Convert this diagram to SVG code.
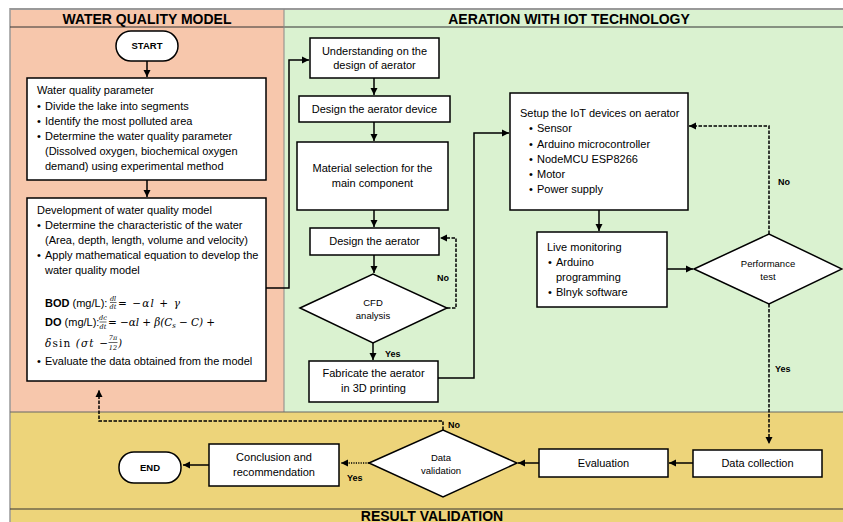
<svg xmlns="http://www.w3.org/2000/svg" width="843" height="522" viewBox="0 0 843 522">
<style>
.t{font-family:"Liberation Sans",Arial,sans-serif;font-size:11px;fill:#000}
.c{text-anchor:middle}
.b{font-weight:bold}
.h{font-family:"Liberation Sans",Arial,sans-serif;font-size:14px;font-weight:bold;text-anchor:middle;fill:#000}
.s{font-size:9.5px}
.lb{font-family:"Liberation Sans",Arial,sans-serif;font-size:9px;font-weight:bold;fill:#000}
.box{fill:#fff;stroke:#000;stroke-width:1.5}
.ln{fill:none;stroke:#000;stroke-width:1.5}
.dash{stroke-dasharray:3.5 1.5}
.dot{stroke-dasharray:1.2 1.2}
.m{font-family:"DejaVu Serif","Liberation Serif",serif;font-style:italic;font-size:10.5px;fill:#000}
.fr{font-family:"DejaVu Serif","Liberation Serif",serif;font-style:italic;font-size:6.5px;text-anchor:middle;fill:#000}
.fl{stroke:#000;stroke-width:0.6}
</style>
<defs>
<marker id="ah" markerWidth="8" markerHeight="8" refX="7" refY="4" orient="auto" markerUnits="userSpaceOnUse">
<path d="M0,0.5 L7,4 L0,7.5 z" fill="#000"/>
</marker>
</defs>

<g id="lanes">
<rect x="10" y="9" width="274" height="403" fill="#F7C7AC"/>
<rect x="284" y="9" width="559" height="403" fill="#DAF2D0"/>
<rect x="10" y="412" width="833" height="110" fill="#EDD47A"/>
<line x1="10" y1="9" x2="843" y2="9" stroke="#999" stroke-width="2"/>
<line x1="10" y1="8" x2="10" y2="522" stroke="#999" stroke-width="1.5"/>
<line x1="10" y1="27" x2="843" y2="27" stroke="#333" stroke-width="1"/>
<line x1="284" y1="9" x2="284" y2="412" stroke="#888" stroke-width="1"/>
<line x1="10" y1="412" x2="843" y2="412" stroke="#666" stroke-width="1"/>
<line x1="10" y1="509" x2="843" y2="509" stroke="#333" stroke-width="1"/>
<text class="h" x="147" y="23.5">WATER QUALITY MODEL</text>
<text class="h" x="569" y="23.5">AERATION WITH IOT TECHNOLOGY</text>
<text class="h" x="432" y="520.5" font-size="13.5">RESULT VALIDATION</text>
</g>

<g id="connectors">
<path class="ln" d="M147,61 V77" marker-end="url(#ah)"/>
<path class="ln" d="M147,180 V197" marker-end="url(#ah)"/>
<path class="ln" d="M266,288 H289 V60 H309" marker-end="url(#ah)"/>
<path class="ln" d="M374,78 V95" marker-end="url(#ah)"/>
<path class="ln" d="M374,122 V141" marker-end="url(#ah)"/>
<path class="ln" d="M374,210 V227" marker-end="url(#ah)"/>
<path class="ln" d="M374,255 V273" marker-end="url(#ah)"/>
<path class="ln dash" d="M447,308 H456 V238 H440" marker-end="url(#ah)"/>
<path class="ln" d="M373,343 V360" marker-end="url(#ah)"/>
<path class="ln" d="M438,378 H474 V133 H509" marker-end="url(#ah)"/>
<path class="ln" d="M599,210 V231" marker-end="url(#ah)"/>
<path class="ln" d="M667,269 H693" marker-end="url(#ah)"/>
<path class="ln dash" d="M769,234 V126 H689" marker-end="url(#ah)"/>
<path class="ln dash" d="M769,304 V444" marker-end="url(#ah)"/>
<path class="ln" d="M693,463 H669" marker-end="url(#ah)"/>
<path class="ln" d="M539,463 H518" marker-end="url(#ah)"/>
<path class="ln dash" d="M443,430 V421 H99 V390" marker-end="url(#ah)"/>
<path class="ln dot" d="M369,463 H341" marker-end="url(#ah)"/>
<path class="ln" d="M209,465 H183" marker-end="url(#ah)"/>
<text class="lb" x="437" y="280.5">No</text>
<text class="lb" x="385" y="356.5">Yes</text>
<text class="lb" x="778" y="184.5">No</text>
<text class="lb" x="775" y="372">Yes</text>
<text class="lb" x="448" y="427.5">No</text>
<text class="lb" x="347" y="481">Yes</text>
</g>

<g id="start">
<rect class="box" x="116" y="31" width="62" height="30" rx="15"/>
<text class="t c b s" x="147" y="49">START</text>
</g>

<g id="wq-parameter">
<rect class="box" x="27" y="78" width="239" height="102"/>
<text class="t" x="37" y="94">Water quality parameter</text>
<text class="t" x="37" y="109.5">•</text><text class="t" x="45" y="109.5">Divide the lake into segments</text>
<text class="t" x="37" y="125">•</text><text class="t" x="45" y="125">Identify the most polluted area</text>
<text class="t" x="37" y="140">•</text><text class="t" x="45" y="140">Determine the water quality parameter</text>
<text class="t" x="45" y="155">(Dissolved oxygen, biochemical oxygen</text>
<text class="t" x="45" y="170">demand) using experimental method</text>
</g>

<g id="wq-model">
<rect class="box" x="27" y="198" width="239" height="183"/>
<text class="t" x="37" y="214">Development of water quality model</text>
<text class="t" x="37" y="229">•</text><text class="t" x="45" y="229">Determine the characteristic of the water</text>
<text class="t" x="45" y="244">(Area, depth, length, volume and velocity)</text>
<text class="t" x="37" y="259">•</text><text class="t" x="45" y="259">Apply mathematical equation to develop the</text>
<text class="t" x="45" y="274">water quality model</text>
<text class="t" x="45" y="306.5"><tspan class="b">BOD</tspan> (mg/L):</text>
<text class="fr" x="113" y="300.5">dl</text>
<line class="fl" x1="110" y1="302.5" x2="116.5" y2="302.5"/>
<text class="fr" x="113" y="309">dt</text>
<text class="m" x="118" y="306.5" textLength="62" lengthAdjust="spacing">= −αl + γ</text>
<text class="t" x="45" y="326"><tspan class="b">DO</tspan> (mg/L):</text>
<text class="fr" x="103" y="320">dc</text>
<line class="fl" x1="99.5" y1="322" x2="106.5" y2="322"/>
<text class="fr" x="103" y="328.5">dt</text>
<text class="m" x="108" y="326" textLength="107" lengthAdjust="spacing">= −αl + β(C<tspan font-size="7" dy="2">s</tspan><tspan dy="-2"> − C) +</tspan></text>
<text class="m" x="45" y="347" textLength="63" lengthAdjust="spacing">δ<tspan font-style="normal">sin</tspan> (σt −</text>
<text class="fr" x="113" y="340">7π</text>
<line class="fl" x1="108.5" y1="342.5" x2="117.5" y2="342.5"/>
<text class="fr" x="113" y="350">12</text>
<text class="m" x="118" y="347">)</text>
<text class="t" x="37" y="364.5">•</text><text class="t" x="45" y="364.5">Evaluate the data obtained from the model</text>
</g>

<g id="understanding">
<rect class="box" x="310" y="38" width="129" height="40"/>
<text class="t c" x="374.5" y="54.5">Understanding on the</text>
<text class="t c" x="374.5" y="68.5">design of aerator</text>
</g>

<g id="design-device">
<rect class="box" x="299" y="96" width="151" height="26"/>
<text class="t c" x="374.5" y="113">Design the aerator device</text>
</g>

<g id="material">
<rect class="box" x="297" y="142" width="151" height="68"/>
<text class="t c" x="372.5" y="172">Material selection for the</text>
<text class="t c" x="372.5" y="186.5">main component</text>
</g>

<g id="design-aerator">
<rect class="box" x="310" y="228" width="129" height="27"/>
<text class="t c" x="374.5" y="245">Design the aerator</text>
</g>

<g id="cfd">
<path class="box" d="M300,308 L373,274 L447,308 L373,343 Z"/>
<text class="t c s" x="373" y="305.5">CFD</text>
<text class="t c s" x="373" y="319">analysis</text>
</g>

<g id="fabricate">
<rect class="box" x="309" y="361" width="129" height="41"/>
<text class="t c" x="373.5" y="377">Fabricate the aerator</text>
<text class="t c" x="373.5" y="392">in 3D printing</text>
</g>

<g id="setup-iot">
<rect class="box" x="510" y="93" width="178" height="117"/>
<text class="t" x="520" y="117">Setup the IoT devices on aerator</text>
<text class="t" x="529" y="132">•</text><text class="t" x="537" y="132">Sensor</text>
<text class="t" x="529" y="147.5">•</text><text class="t" x="537" y="147.5">Arduino microcontroller</text>
<text class="t" x="529" y="163">•</text><text class="t" x="537" y="163">NodeMCU ESP8266</text>
<text class="t" x="529" y="178">•</text><text class="t" x="537" y="178">Motor</text>
<text class="t" x="529" y="193">•</text><text class="t" x="537" y="193">Power supply</text>
</g>

<g id="live-monitoring">
<rect class="box" x="537" y="232" width="130" height="75"/>
<text class="t" x="547" y="251">Live monitoring</text>
<text class="t" x="548" y="266">•</text><text class="t" x="556" y="266">Arduino</text>
<text class="t" x="556" y="280.5">programming</text>
<text class="t" x="548" y="295.5">•</text><text class="t" x="556" y="295.5">Blnyk software</text>
</g>

<g id="performance">
<path class="box" d="M694,269 L769,234 L842,269 L769,304 Z"/>
<text class="t c s" x="768" y="266.5">Performance</text>
<text class="t c s" x="768" y="279.5">test</text>
</g>

<g id="data-collection">
<rect class="box" x="693" y="450" width="129" height="27"/>
<text class="t c" x="757.5" y="467">Data collection</text>
</g>

<g id="evaluation">
<rect class="box" x="539" y="449" width="129" height="28"/>
<text class="t c" x="603.5" y="467">Evaluation</text>
</g>

<g id="data-validation">
<path class="box" d="M369,463 L443,430 L517,463 L443,497 Z"/>
<text class="t c s" x="441" y="460.5">Data</text>
<text class="t c s" x="441" y="474">validation</text>
</g>

<g id="conclusion">
<rect class="box" x="209" y="444" width="130" height="42"/>
<text class="t c" x="274" y="461">Conclusion and</text>
<text class="t c" x="274" y="475.5">recommendation</text>
</g>

<g id="end">
<rect class="box" x="119" y="452" width="62" height="31" rx="15"/>
<text class="t c b s" x="150" y="471">END</text>
</g>
</svg>
